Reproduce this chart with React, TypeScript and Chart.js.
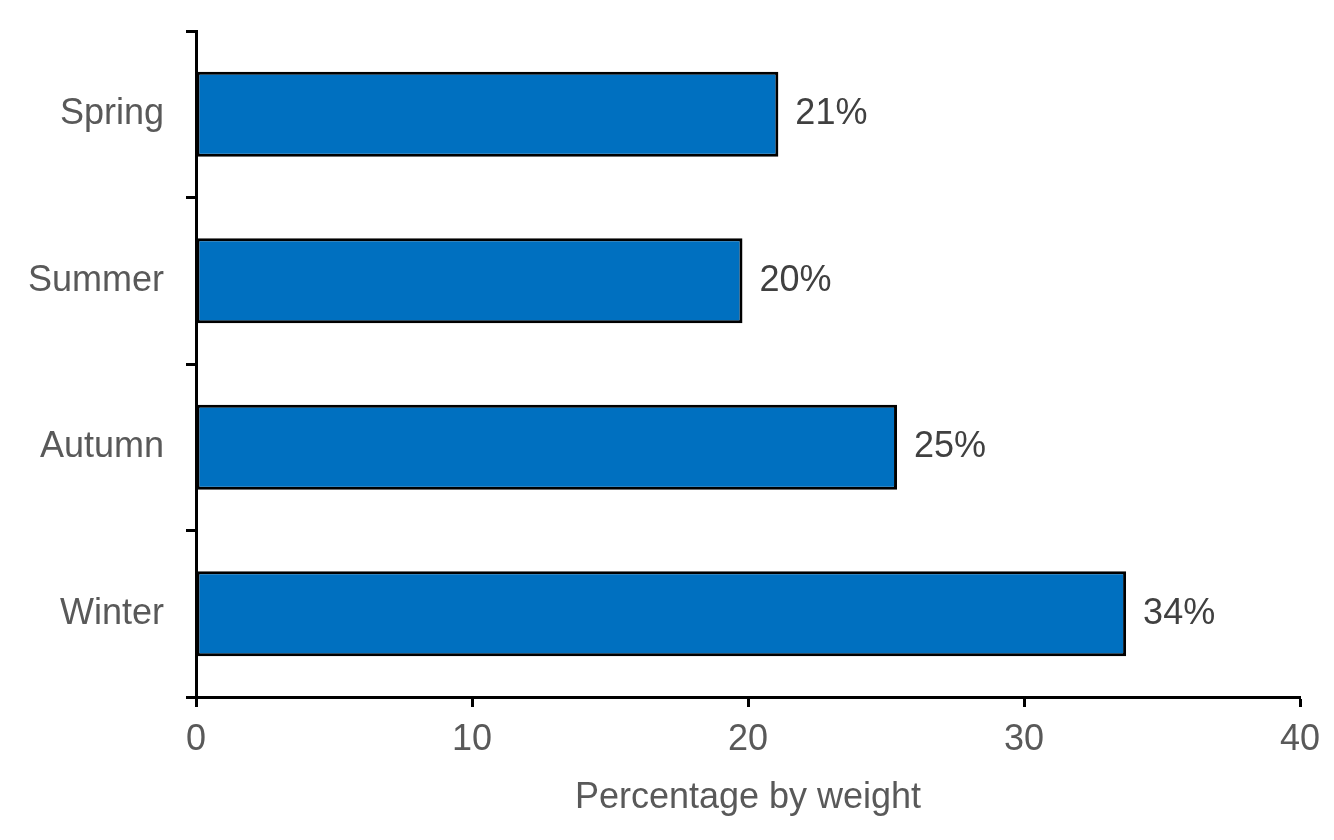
import React, { useEffect, useRef } from "react";
import { Chart, registerables } from "chart.js";

Chart.register(...registerables);

const seasons: string[] = ["Spring", "Summer", "Autumn", "Winter"];
const weightShare: number[] = [21.1, 19.8, 25.4, 33.7];
const xTicks: number[] = [0, 10, 20, 30, 40];

const FONT = "'Liberation Sans', Arial, sans-serif";

const barLabels = {
  id: "barLabels",
  afterDatasetsDraw(chart: any) {
    const ctx = chart.ctx;
    const meta = chart.getDatasetMeta(0);
    ctx.save();
    ctx.font = `36px ${FONT}`;
    ctx.fillStyle = "#404040";
    ctx.textAlign = "left";
    ctx.textBaseline = "middle";
    meta.data.forEach((bar: any, i: number) => {
      ctx.fillText(`${Math.round(weightShare[i])}%`, bar.x + 17, bar.y);
    });
    ctx.restore();
  },
};

const App: React.FC = () => {
  const canvasRef = useRef<HTMLCanvasElement>(null);

  useEffect(() => {
    const el = canvasRef.current;
    if (!el) return;

    const chart = new Chart(el, {
      type: "bar",
      data: {
        labels: seasons,
        datasets: [
          {
            data: weightShare,
            backgroundColor: "#0070C0",
            borderColor: "#000000",
            borderWidth: 3,
            borderSkipped: false,
            barPercentage: 0.51,
            categoryPercentage: 1,
          },
        ],
      },
      options: {
        indexAxis: "y",
        animation: false,
        responsive: true,
        maintainAspectRatio: false,
        layout: { padding: { top: 31, right: 34, bottom: 0, left: 0 } },
        plugins: {
          legend: { display: false },
          tooltip: { enabled: false },
        },
        scales: {
          x: {
            min: 0,
            max: 40,
            afterBuildTicks: (scale: any) => {
              scale.ticks = xTicks.map((v) => ({ value: v }));
            },
            afterFit: (scale: any) => {
              scale.height = 143;
              scale.paddingLeft = 0;
              scale.paddingRight = 0;
            },
            border: { color: "#000", width: 3 },
            grid: {
              drawOnChartArea: false,
              drawTicks: true,
              tickLength: 10,
              tickColor: "#000",
              tickWidth: 3,
            },
            ticks: {
              color: "#595959",
              font: { family: FONT, size: 36 },
              padding: 11,
              maxRotation: 0,
            },
            title: {
              display: true,
              text: "Percentage by weight",
              color: "#595959",
              font: { family: FONT, size: 36 },
              padding: { top: 0, bottom: 20 },
            },
          },
          y: {
            afterFit: (scale: any) => {
              scale.width = 196;
              scale.paddingTop = 0;
              scale.paddingBottom = 0;
            },
            border: { color: "#000", width: 3 },
            grid: {
              offset: true,
              drawOnChartArea: false,
              drawTicks: true,
              tickLength: 10,
              tickColor: "#000",
              tickWidth: 3,
            },
            ticks: {
              color: "#595959",
              font: { family: FONT, size: 36 },
              padding: 22,
            },
          },
        },
      },
      plugins: [barLabels],
    });

    return () => {
      chart.destroy();
    };
  }, []);

  return (
    <div
      style={{
        position: "absolute",
        left: 0,
        top: 0,
        width: 1334,
        height: 840,
        background: "#fff",
      }}
    >
      <canvas ref={canvasRef}></canvas>
    </div>
  );
};

export default App;
